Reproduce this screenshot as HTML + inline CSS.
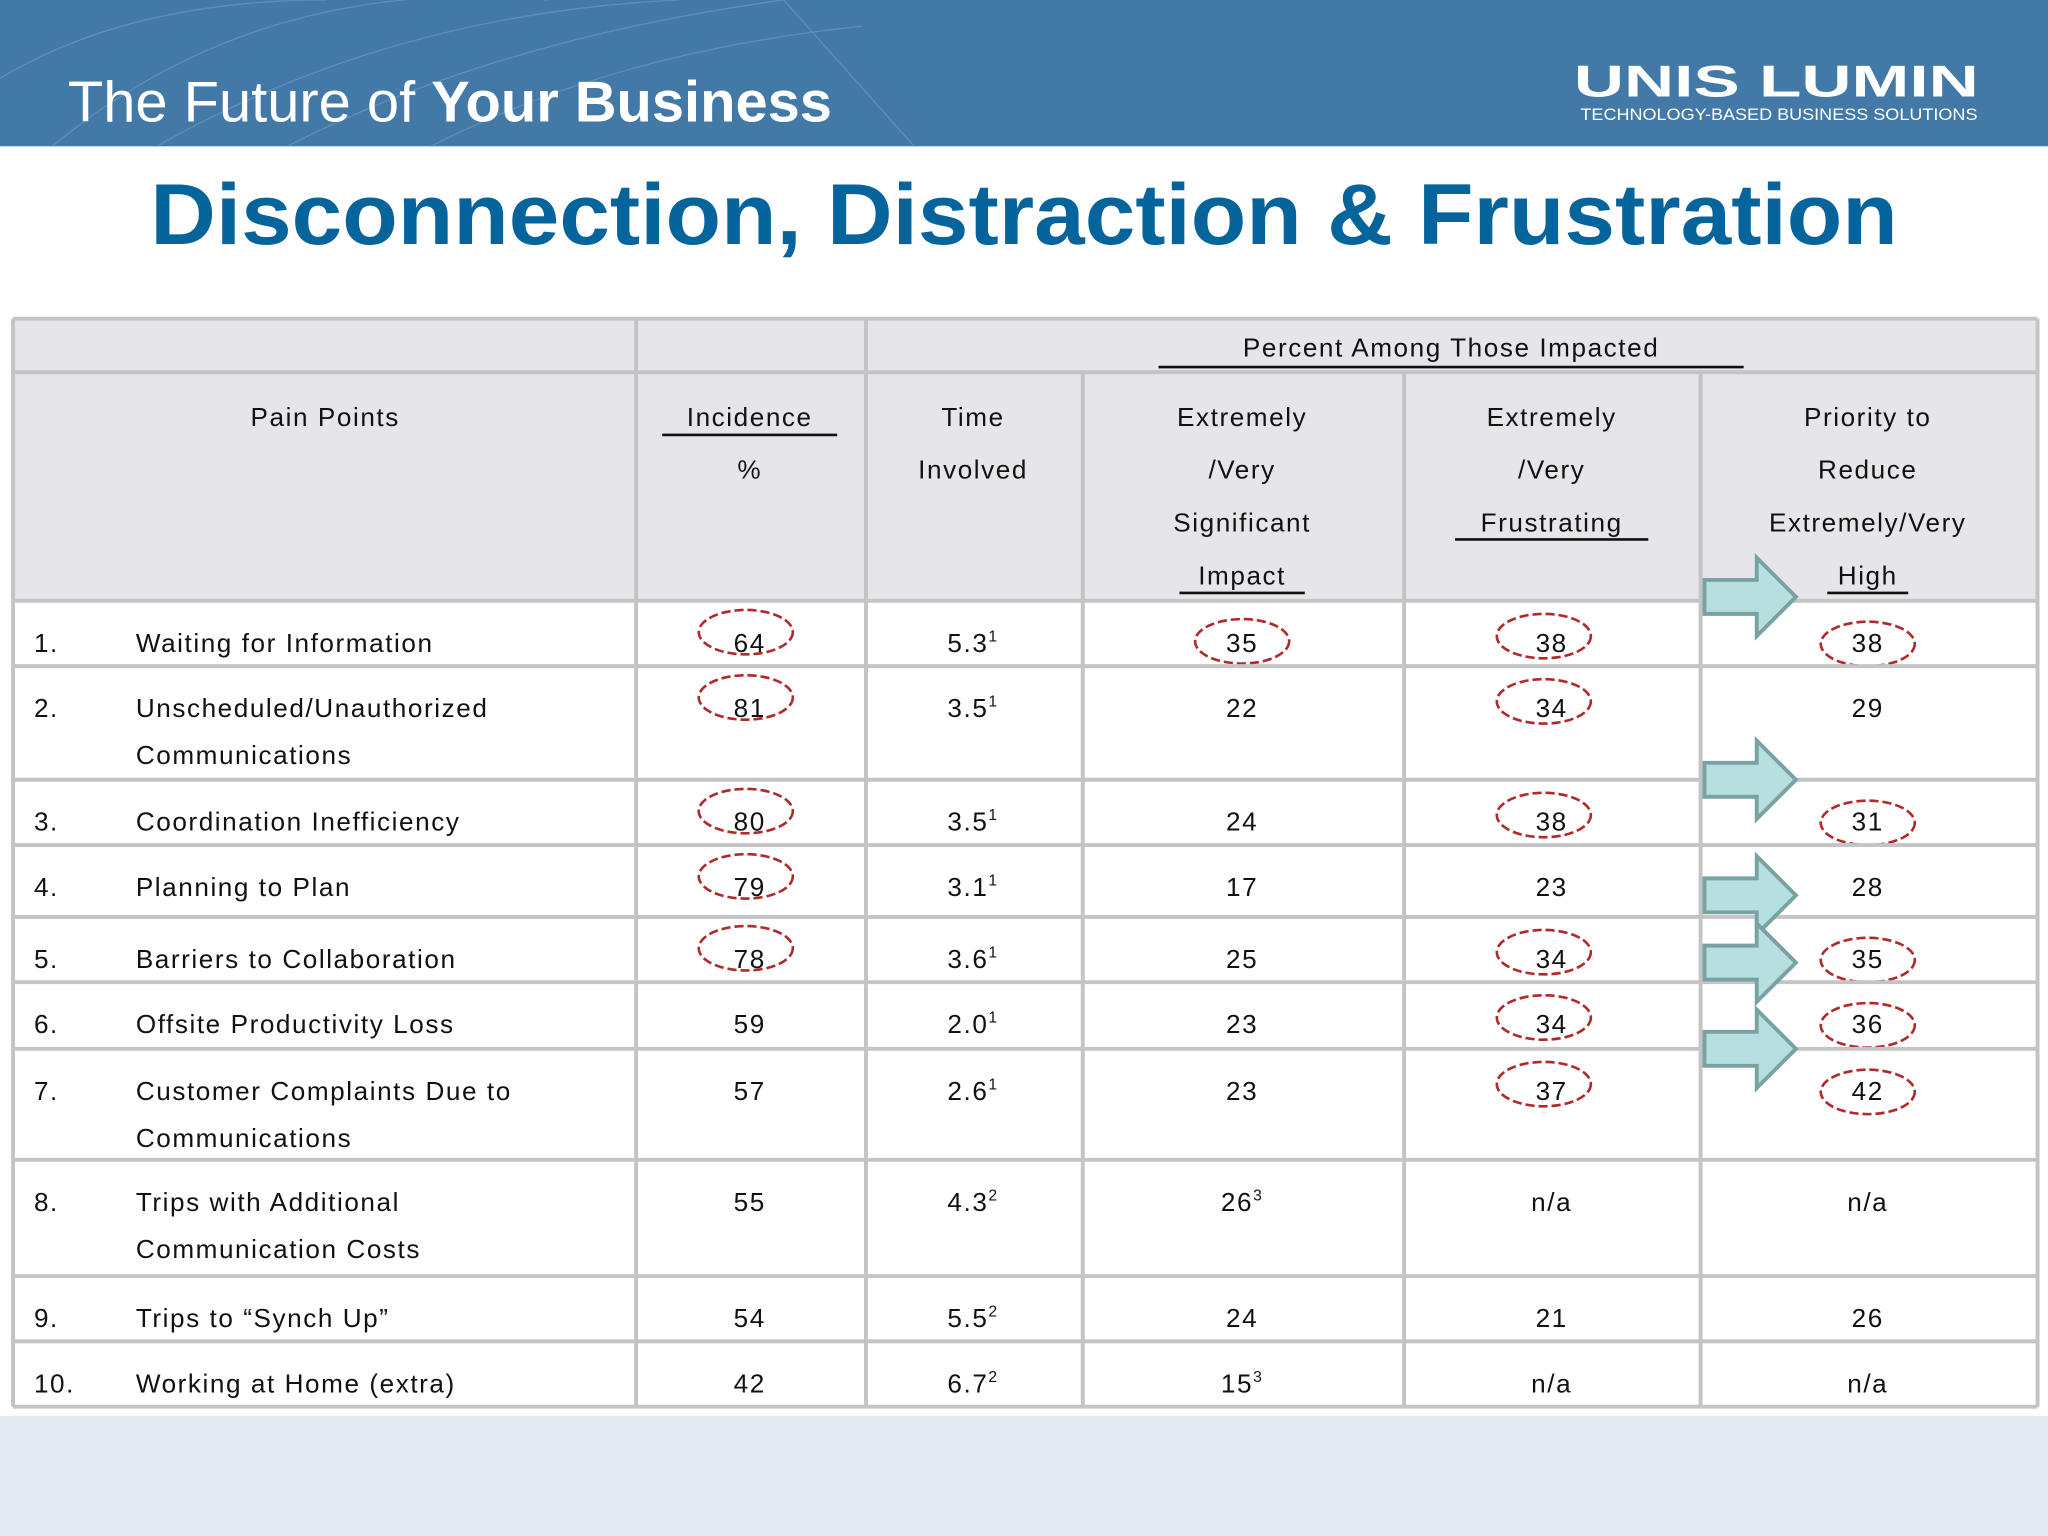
<!DOCTYPE html>
<html><head><meta charset="utf-8"><style>
html,body{margin:0;padding:0;background:#fff;}
svg{display:block;}
text{font-family:"Liberation Sans",sans-serif;}
</style></head><body>
<svg id="s" width="2048" height="1536" viewBox="0 0 1568 1176" xmlns="http://www.w3.org/2000/svg">
<rect x="0" y="0" width="1568" height="1176" fill="#ffffff"/>
<rect x="0" y="1084" width="1568" height="92" fill="#e5eaf2"/>
<rect x="0" y="0" width="1568" height="112" fill="#4279a6"/>
<g stroke="#6b98bc" stroke-width="1" fill="none" opacity="0.7">
<path d="M40 112 Q200 -20 420 0"/><path d="M120 112 Q300 10 520 0"/><path d="M220 112 Q380 30 600 0"/><path d="M330 112 Q470 40 660 20"/><path d="M0 60 Q100 0 250 0"/><path d="M600 0 L700 112"/>
</g>
<text x="52" y="93" font-size="44" fill="#ffffff" textLength="585" lengthAdjust="spacingAndGlyphs"><tspan font-weight="normal">The Future of </tspan><tspan font-weight="bold">Your Business</tspan></text>
<text x="1205" y="74" font-size="34" font-weight="bold" fill="#ffffff" textLength="310" lengthAdjust="spacingAndGlyphs">UNIS LUMIN</text>
<text x="1210" y="92" font-size="13" fill="#ffffff" textLength="304" lengthAdjust="spacingAndGlyphs">TECHNOLOGY-BASED BUSINESS SOLUTIONS</text>
<text x="784" y="187" font-size="66" font-weight="bold" fill="#05649c" text-anchor="middle" textLength="1338" lengthAdjust="spacingAndGlyphs">Disconnection, Distraction &amp; Frustration</text>
<g id="tbl"></g>
</svg>
<script>
const painPoints = [["Waiting for Information"],["Unscheduled/Unauthorized","Communications"],["Coordination Inefficiency"],["Planning to Plan"],["Barriers to Collaboration"],["Offsite Productivity Loss"],["Customer Complaints Due to","Communications"],["Trips with Additional","Communication Costs"],["Trips to \u201cSynch Up\u201d"],["Working at Home (extra)"]];
const incidence = ["64","81","80","79","78","59","57","55","54","42"];
const timeVals = ["5.3","3.5","3.5","3.1","3.6","2.0","2.6","4.3","5.5","6.7"];
const timeSup = ["1","1","1","1","1","1","1","2","2","2"];
const impact = ["35","22","24","17","25","23","23","26","24","15"];
const impactSup = ["","","","","","","","3","","3"];
const frustrating = ["38","34","38","23","34","34","37","n/a","21","n/a"];
const priority = ["38","29","31","28","35","36","42","n/a","26","n/a"];
const circIncidence = [1,1,1,1,1,0,0,0,0,0];
const circImpact = [1,0,0,0,0,0,0,0,0,0];
const circFrustrating = [1,1,1,0,1,1,1,0,0,0];
const circPriority = [1,0,1,0,1,1,1,0,0,0];
const arrowRows = [-1,2,3.7,4.7,6];

const NS="http://www.w3.org/2000/svg";
const g=document.getElementById('tbl');
const colX=[10,487,663,829,1075,1302,1560];
const rowY=[460,510,597,647,702,752,803,888,977,1027,1077];
function el(t,a,p){const e=document.createElementNS(NS,t);for(const k in a)e.setAttribute(k,a[k]);(p||g).appendChild(e);return e;}
function txt(x,y,s,anchor,name){const t=el('text',{x:x,y:y,'font-size':20,fill:'#111','text-anchor':anchor||'middle','letter-spacing':'1.2'});t.textContent=s;


return t;}
// header bg
const hb=el('rect',{x:10,y:244,width:1550,height:216,fill:'#e6e5ea'});


const bb=el('rect',{x:10,y:460,width:1550,height:617,fill:'#ffffff'});


// headers
function hdr(x,lines,ul,name){lines.forEach((l,i)=>{const t=txt(x,326+i*40.5,l,'middle',name);});
 if(ul){const w=ul[1];const ln=el('line',{x1:x-w/2,x2:x+w/2,y1:ul[0],y2:ul[0],stroke:'#111','stroke-width':2});}}
txt(1111,273,"Percent Among Those Impacted",'middle','group-header');
{const ln=el('line',{x1:887,x2:1335,y1:281,y2:281,stroke:'#111','stroke-width':2});}
hdr(249,["Pain Points"],null,'pain-points-header');
hdr(574,["Incidence","%"],[333,134],'incidence-header');
hdr(745,["Time","Involved"],null,'time-header');
hdr(951,["Extremely","/Very","Significant","Impact"],[454,96],'impact-header');
hdr(1188,["Extremely","/Very","Frustrating"],[413,148],'frustrating-header');
hdr(1430,["Priority to","Reduce","Extremely/Very","High"],[454,62],'priority-header');
// rows
const cx=[574,745,951,1188,1430];
function ell(x,y,name){const e=el('ellipse',{cx:x,cy:y,rx:36,ry:17,fill:'none',stroke:'#b02a2a','stroke-width':2,'stroke-dasharray':'7 3'});

}
painPoints.forEach((pp,i)=>{
 const top=rowY[i];const y=top+39;
 txt(26,y,(i+1)+".",'start','row-number');
 pp.forEach((l,j)=>txt(104,y+j*36,l,'start','pain-point-label'));
 txt(cx[0],y,incidence[i],'middle','incidence-value');
 const t1=txt(cx[1],y,timeVals[i],'middle','time-value');const sp=document.createElementNS(NS,'tspan');sp.setAttribute('font-size','12');sp.setAttribute('dy','-8');sp.textContent=timeSup[i];t1.appendChild(sp);
 const t2=txt(cx[2],y,impact[i],'middle','impact-value');if(impactSup[i]){const s2=document.createElementNS(NS,'tspan');s2.setAttribute('font-size','12');s2.setAttribute('dy','-8');s2.textContent=impactSup[i];t2.appendChild(s2);}
 txt(cx[3],y,frustrating[i],'middle','frustrating-value');
 txt(cx[4],y,priority[i],'middle','priority-value');
 if(circIncidence[i])ell(cx[0]-3,y-15,'incidence-circle');
 if(circImpact[i])ell(cx[2],y-8,'impact-circle');
 if(circFrustrating[i])ell(cx[3]-6,y-12,'frustrating-circle');
 if(circPriority[i])ell(cx[4],y-6,'priority-circle');
});
// grid
rowY.forEach(y=>{const l=el('line',{x1:10,x2:1560,y1:y,y2:y,stroke:'#c4c4c6','stroke-width':3});});
[244,285].forEach(y=>{const l=el('line',{x1:10,x2:1560,y1:y,y2:y,stroke:'#c4c4c6','stroke-width':3});});
colX.forEach((x,i)=>{const y1=(i>=3&&i<=5)?285:244;const l=el('line',{x1:x,x2:x,y1:y1,y2:1077,stroke:'#c4c4c6','stroke-width':3});});
// arrows
arrowRows.forEach(r=>{const yc = r<0 ? 457 : rowY[Math.floor(r)]+ (r%1)*(rowY[Math.floor(r)+1]-rowY[Math.floor(r)]);
 const x=1305;const p=`M${x} ${yc-13} L${x+40} ${yc-13} L${x+40} ${yc-30} L${x+70} ${yc} L${x+40} ${yc+30} L${x+40} ${yc+13} L${x} ${yc+13} Z`;
 const a=el('path',{d:p,fill:'#b8dfe0',stroke:'#79a3a3','stroke-width':3});
 
 });
</script>
</body></html>
